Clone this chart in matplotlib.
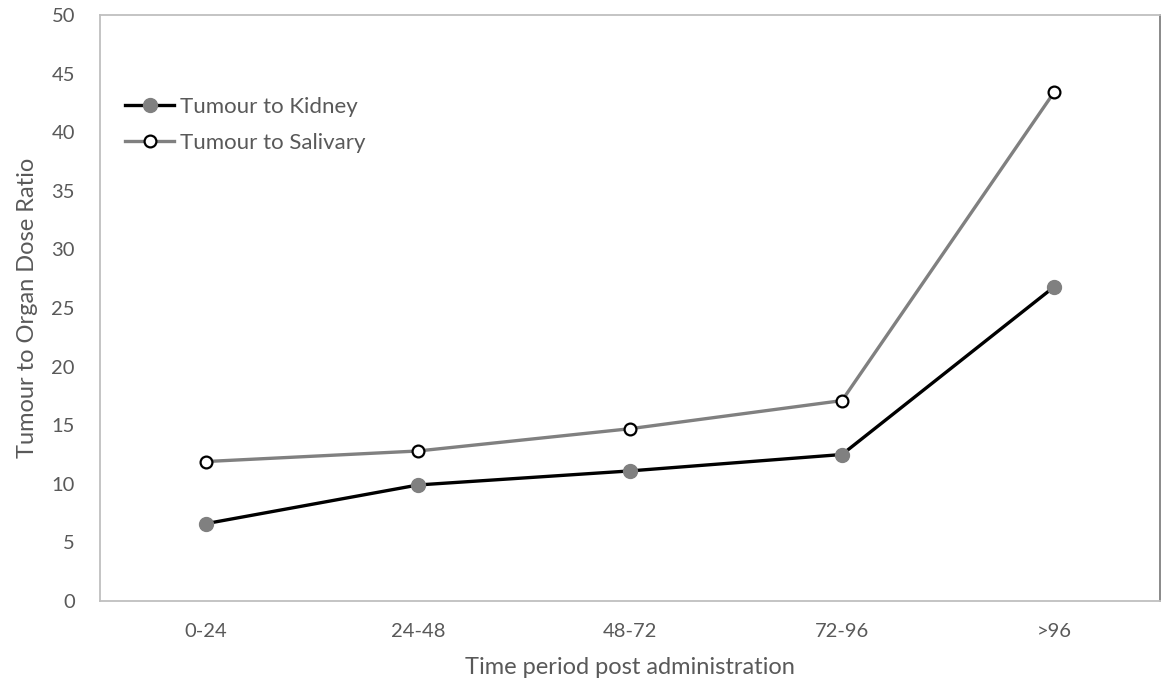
import matplotlib.pyplot as plt

# categories and values
periods = ['0-24', '24-48', '48-72', '72-96', '>96']
kidney = [6.6, 9.9, 11.1, 12.5, 26.8]
salivary = [11.9, 12.8, 14.7, 17.1, 43.4]

plt.rcParams['font.family'] = ['Lato', 'DejaVu Sans']
txt = '#595959'

fig = plt.figure(figsize=(11.67, 6.84), dpi=100)
ax = fig.add_axes([100/1167, 1 - 601/684, 1060/1167, 586/684])

x = range(len(periods))
ax.plot(x, kidney, color='black', lw=2.4, marker='o', ms=10,
        mfc='#808080', mec='#808080', label='Tumour to Kidney')
ax.plot(x, salivary, color='#808080', lw=2.4, marker='o', ms=8.5,
        mfc='white', mec='black', mew=1.6, label='Tumour to Salivary')

ax.set_xlim(-0.5, len(periods) - 0.5)
ax.set_ylim(0, 50)
ax.set_yticks(range(0, 51, 5))
ax.set_xticks(list(x))
ax.set_xticklabels(periods)
ax.tick_params(length=0, labelsize=14.5, labelcolor=txt)
ax.tick_params(axis='y', pad=18)
ax.tick_params(axis='x', pad=16)

for s in ['left', 'top', 'bottom']:
    ax.spines[s].set_color('#bfbfbf')
ax.spines['right'].set_color('#808080')
for s in ax.spines.values():
    s.set_linewidth(1.3)

ax.set_xlabel('Time period post administration', fontsize=17, color=txt, labelpad=12)
ax.set_ylabel('Tumour to Organ Dose Ratio', fontsize=17, color=txt, labelpad=10)

leg = ax.legend(loc='upper left', bbox_to_anchor=(0.005, 0.895), frameon=False,
                fontsize=16, handlelength=2.2, handletextpad=0.25, labelspacing=0.75)
for t in leg.get_texts():
    t.set_color(txt)

fig.savefig('out.png', dpi=100)
